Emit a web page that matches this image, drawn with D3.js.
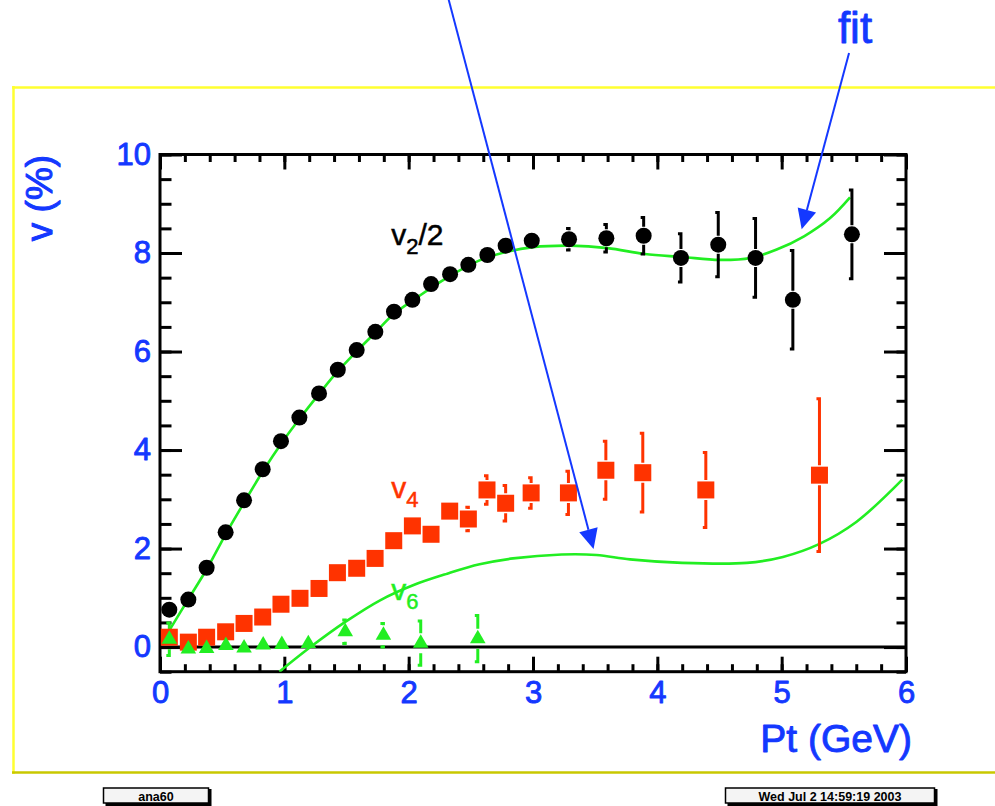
<!DOCTYPE html>
<html>
<head>
<meta charset="utf-8">
<script src="https://cdn.jsdelivr.net/npm/d3@7"></script>
<style>
  html, body { margin: 0; padding: 0; background: #ffffff; }
  svg { display: block; }
  text { font-family: "Liberation Sans", Arial, Helvetica, sans-serif; }
</style>
</head>
<body>
<svg id="chart" width="995" height="806"></svg>
<script>
// v2/2 measurements (circles)
const v2Pt  = [0.075,0.228,0.375,0.528,0.676,0.826,0.973,1.121,1.279,1.43,1.582,1.732,1.882,2.03,2.18,2.333,2.48,2.633,2.78,2.99,3.29,3.59,3.89,4.19,4.49,4.79,5.09,5.565];
const v2Val = [0.76,0.965,1.61,2.33,2.98,3.61,4.18,4.66,5.15,5.63,6.03,6.40,6.81,7.05,7.37,7.57,7.76,7.96,8.15,8.25,8.28,8.30,8.35,7.90,8.17,7.90,7.05,8.38];
const v2Err = [0.05,0.05,0.05,0.05,0.05,0.05,0.05,0.05,0.05,0.05,0.05,0.05,0.05,0.05,0.05,0.05,0.06,0.08,0.1,0.18,0.22,0.28,0.37,0.49,0.65,0.8,1.0,0.9];

// v4 measurements (squares)
const v4Pt  = [0.075,0.228,0.375,0.528,0.676,0.826,0.973,1.126,1.279,1.427,1.582,1.73,1.88,2.03,2.18,2.33,2.48,2.63,2.78,2.985,3.285,3.586,3.883,4.39,5.304];
const v4Val = [0.2,0.1,0.2,0.31,0.48,0.61,0.87,0.99,1.19,1.51,1.6,1.80,2.16,2.46,2.29,2.76,2.6,3.19,2.92,3.13,3.13,3.59,3.54,3.19,3.49];
const v4Err = [0.05,0.05,0.05,0.05,0.05,0.05,0.05,0.05,0.05,0.05,0.05,0.05,0.05,0.05,0.05,0.12,0.24,0.29,0.36,0.31,0.44,0.59,0.8,0.76,1.55];

// v6 measurements (triangles)
const v6Pt  = [0.075,0.228,0.375,0.53,0.676,0.83,0.98,1.193,1.49,1.797,2.097,2.556];
const v6Val = [0.16,-0.04,-0.03,0.03,-0.02,0.04,0.05,0.07,0.31,0.24,0.08,0.17];
const v6Err = [0.33,0.05,0.05,0.05,0.05,0.05,0.05,0.05,0.24,0.24,0.45,0.47];

// fit curves, sampled along Pt
const fitV2Pt  = [0.07,0.23,0.38,0.53,0.68,0.83,0.98,1.13,1.28,1.43,1.58,1.73,1.88,2.04,2.31,2.57,2.8,3.0,3.3,3.6,3.9,4.2,4.5,4.75,4.96,5.18,5.39,5.55];
const fitV2Val = [0.32,0.98,1.6,2.3,2.95,3.58,4.15,4.66,5.14,5.6,6.0,6.38,6.76,7.05,7.5,7.85,8.03,8.12,8.15,8.1,7.98,7.92,7.86,7.9,8.07,8.34,8.71,9.13];
const fitV4Pt  = [0.96,1.21,1.49,1.77,2.04,2.31,2.57,2.84,3.23,3.51,3.78,4.2,4.72,5.01,5.30,5.60,5.97];
const fitV4Val = [-0.5,0.0,0.51,0.95,1.26,1.49,1.68,1.80,1.88,1.87,1.78,1.71,1.71,1.83,2.09,2.54,3.40];

// axis ticks
const xMajor = [0,1,2,3,4,5,6];
const yMajor = [0,2,4,6,8,10];

const svg = d3.select("#chart");
const BLUE = "#1438ff", RED = "#ff3300", GREEN = "#22ee22";
const FONT = "\"Liberation Sans\", Arial, Helvetica, sans-serif";

const x = d3.scaleLinear().domain([0, 6]).range([160, 906]);
const y = d3.scaleLinear().domain([-0.5, 10]).range([671.7, 154.5]);
const [x0, x1] = x.range();
const [yb, yt] = y.range();

// heavier glyphs for the blue lettering
function heavy(sel, color, w) {
  return sel.attr("fill", color).attr("stroke", color).attr("stroke-width", w)
    .attr("stroke-linejoin", "round");
}

// canvas border (yellow bevel)
svg.append("line").attr("x1", 12).attr("x2", 995).attr("y1", 87.5).attr("y2", 87.5)
  .attr("stroke", "#ffff30").attr("stroke-width", 2.5);
svg.append("line").attr("x1", 13.5).attr("x2", 13.5).attr("y1", 86).attr("y2", 774)
  .attr("stroke", "#ffff30").attr("stroke-width", 2.5);
svg.append("line").attr("x1", 12).attr("x2", 995).attr("y1", 772.5).attr("y2", 772.5)
  .attr("stroke", "#c8c800").attr("stroke-width", 2.5);

// minor ticks, all four sides
const xMinor = d3.range(0, 6.0001, 0.2).map(v => +v.toFixed(2));
const yMinor = d3.range(-0.5, 10.0001, 0.5).map(v => +v.toFixed(2));
function tickAxis(gen, tx, ty, vals, size) {
  const g = svg.append("g").attr("transform", `translate(${tx},${ty})`)
    .call(gen.tickValues(vals).tickSize(size).tickFormat(""));
  g.select(".domain").remove();
  g.selectAll(".tick line").attr("stroke", "#000").attr("stroke-width", 3);
  return g;
}
tickAxis(d3.axisBottom(x), 0, yb, xMinor, -7.5);
tickAxis(d3.axisTop(x), 0, yt, xMinor, -7.5);
tickAxis(d3.axisLeft(y), x0, 0, yMinor, -11.5);
tickAxis(d3.axisRight(y), x1, 0, yMinor, -9.5);
tickAxis(d3.axisTop(x), 0, yt, xMajor, -15);
tickAxis(d3.axisRight(y), x1, 0, yMajor, -22);

// labelled axes
const xAxis = svg.append("g").attr("transform", `translate(0,${yb})`)
  .call(d3.axisBottom(x).tickValues(xMajor).tickSize(-15).tickPadding(9).tickFormat(d3.format("d")));
const yAxis = svg.append("g").attr("transform", `translate(${x0},0)`)
  .call(d3.axisLeft(y).tickValues(yMajor).tickSize(-22).tickPadding(9).tickFormat(d3.format("d")));
[xAxis, yAxis].forEach(g => {
  g.select(".domain").remove();
  g.selectAll(".tick line").attr("stroke", "#000").attr("stroke-width", 3);
  heavy(g.selectAll(".tick text"), BLUE, 0.9).style("font-family", FONT)
    .style("font-size", "31px");
});

// frame
svg.append("rect").attr("x", x0).attr("y", yt).attr("width", x1 - x0).attr("height", yb - yt)
  .attr("fill", "none").attr("stroke", "#000").attr("stroke-width", 3);

// zero line
svg.append("line").attr("x1", x0).attr("x2", x1).attr("y1", y(0)).attr("y2", y(0))
  .attr("stroke", "#000").attr("stroke-width", 3);

// axis titles
heavy(svg.append("text").attr("x", 912).attr("y", 752).attr("text-anchor", "end"), BLUE, 0.9)
  .style("font-size", "39px").text("Pt (GeV)");
heavy(svg.append("text").attr("transform", "translate(52,198) rotate(-90)").attr("text-anchor", "middle"), BLUE, 1)
  .style("font-size", "37px").text("v (%)");

// clip to the plot area
svg.append("clipPath").attr("id", "plotclip").append("rect")
  .attr("x", x0).attr("y", yt).attr("width", x1 - x0).attr("height", yb - yt);
const plot = svg.append("g").attr("clip-path", "url(#plotclip)");

// fit curves
const line = d3.line().x(d => x(d[0])).y(d => y(d[1])).curve(d3.curveCatmullRom.alpha(0.5));
plot.append("path").datum(d3.zip(fitV2Pt, fitV2Val)).attr("d", line)
  .attr("fill", "none").attr("stroke", GREEN).attr("stroke-width", 2.6);
plot.append("path").datum(d3.zip(fitV4Pt, fitV4Val)).attr("d", line)
  .attr("fill", "none").attr("stroke", GREEN).attr("stroke-width", 2.6);

// error bars with a gap around the marker and small end serifs
function errorBars(pts, vals, errs, color, gap) {
  const g = plot.append("g").attr("stroke", color).attr("stroke-width", 3).attr("fill", "none");
  pts.forEach((p, i) => {
    const cx = x(p), cy = y(vals[i]);
    const top = y(vals[i] + errs[i]), bot = y(vals[i] - errs[i]);
    if (cy - top > gap) {
      g.append("path").attr("d", `M${cx - 3},${top}H${cx}V${cy - gap}`);
    }
    if (bot - cy > gap) {
      g.append("path").attr("d", `M${cx},${cy + gap}V${bot}H${cx - 3}`);
    }
  });
}
errorBars(v2Pt, v2Val, v2Err, "#000", 9);
errorBars(v4Pt, v4Val, v4Err, RED, 10);
errorBars(v6Pt, v6Val, v6Err, GREEN, 10);

// markers
plot.append("g").selectAll("rect").data(d3.zip(v4Pt, v4Val)).join("rect")
  .attr("x", d => x(d[0]) - 8.5).attr("y", d => y(d[1]) - 8.5)
  .attr("width", 17).attr("height", 17).attr("fill", RED);
plot.append("g").selectAll("path").data(d3.zip(v6Pt, v6Val)).join("path")
  .attr("transform", d => `translate(${x(d[0])},${y(d[1])})`)
  .attr("d", d3.symbol(d3.symbolTriangle, 105)).attr("fill", GREEN);
plot.append("g").selectAll("circle").data(d3.zip(v2Pt, v2Val)).join("circle")
  .attr("cx", d => x(d[0])).attr("cy", d => y(d[1])).attr("r", 8).attr("fill", "#000");

// series labels
function seriesLabel(px, py, color, sub, tail) {
  const t = svg.append("text").attr("x", x(px)).attr("y", y(py)).attr("fill", color)
    .attr("stroke", color).attr("stroke-width", 0.5).style("font-size", "30px");
  t.append("tspan").text("v");
  t.append("tspan").attr("dy", 9).style("font-size", "22px").text(sub);
  if (tail) t.append("tspan").attr("dy", -9).text(tail);
}
seriesLabel(1.86, 8.16, "#000", "2", "/2");
seriesLabel(1.86, 3.03, RED, "4", null);
seriesLabel(1.86, 0.96, GREEN, "6", null);

// annotation arrows
const arrows = [
  { from: [2.322, 13.14], to: [3.487, 1.99] },
  { from: [5.542, 12.06], to: [5.161, 8.48] }
];
arrows.forEach(a => {
  const xa = x(a.from[0]), ya = y(a.from[1]), xb = x(a.to[0]), yb2 = y(a.to[1]);
  const ang = Math.atan2(yb2 - ya, xb - xa);
  const L = 20, Wd = 9.5;
  const bx = xb - L * Math.cos(ang), by = yb2 - L * Math.sin(ang);
  svg.append("line").attr("x1", xa).attr("y1", ya).attr("x2", bx).attr("y2", by)
    .attr("stroke", BLUE).attr("stroke-width", 2);
  const nx = -Math.sin(ang), ny = Math.cos(ang);
  svg.append("path")
    .attr("d", `M${xb},${yb2}L${bx + nx * Wd},${by + ny * Wd}L${bx - nx * Wd},${by - ny * Wd}Z`)
    .attr("fill", BLUE);
});
heavy(svg.append("text").attr("x", x(5.59)).attr("y", y(12.27)).attr("text-anchor", "middle"), BLUE, 0.8)
  .style("font-size", "44px").text("fit");

// footer boxes
function footerBox(bx, bw, label) {
  const g = svg.append("g");
  g.append("rect").attr("x", bx).attr("y", 788).attr("width", bw).attr("height", 15)
    .attr("fill", "#f4f4f4").attr("stroke", "#000").attr("stroke-width", 1.5);
  g.append("path").attr("d", `M${bx + 2},${804.5}H${bx + bw + 1.5}V${789}`)
    .attr("stroke", "#000").attr("stroke-width", 3).attr("fill", "none");
  g.append("text").attr("x", bx + bw / 2).attr("y", 800.5).attr("text-anchor", "middle")
    .attr("fill", "#000").style("font-size", "12.5px").style("font-weight", "bold").text(label);
}
footerBox(103.5, 105, "ana60");
footerBox(725.5, 209, "Wed Jul  2 14:59:19 2003");
</script>
</body>
</html>
